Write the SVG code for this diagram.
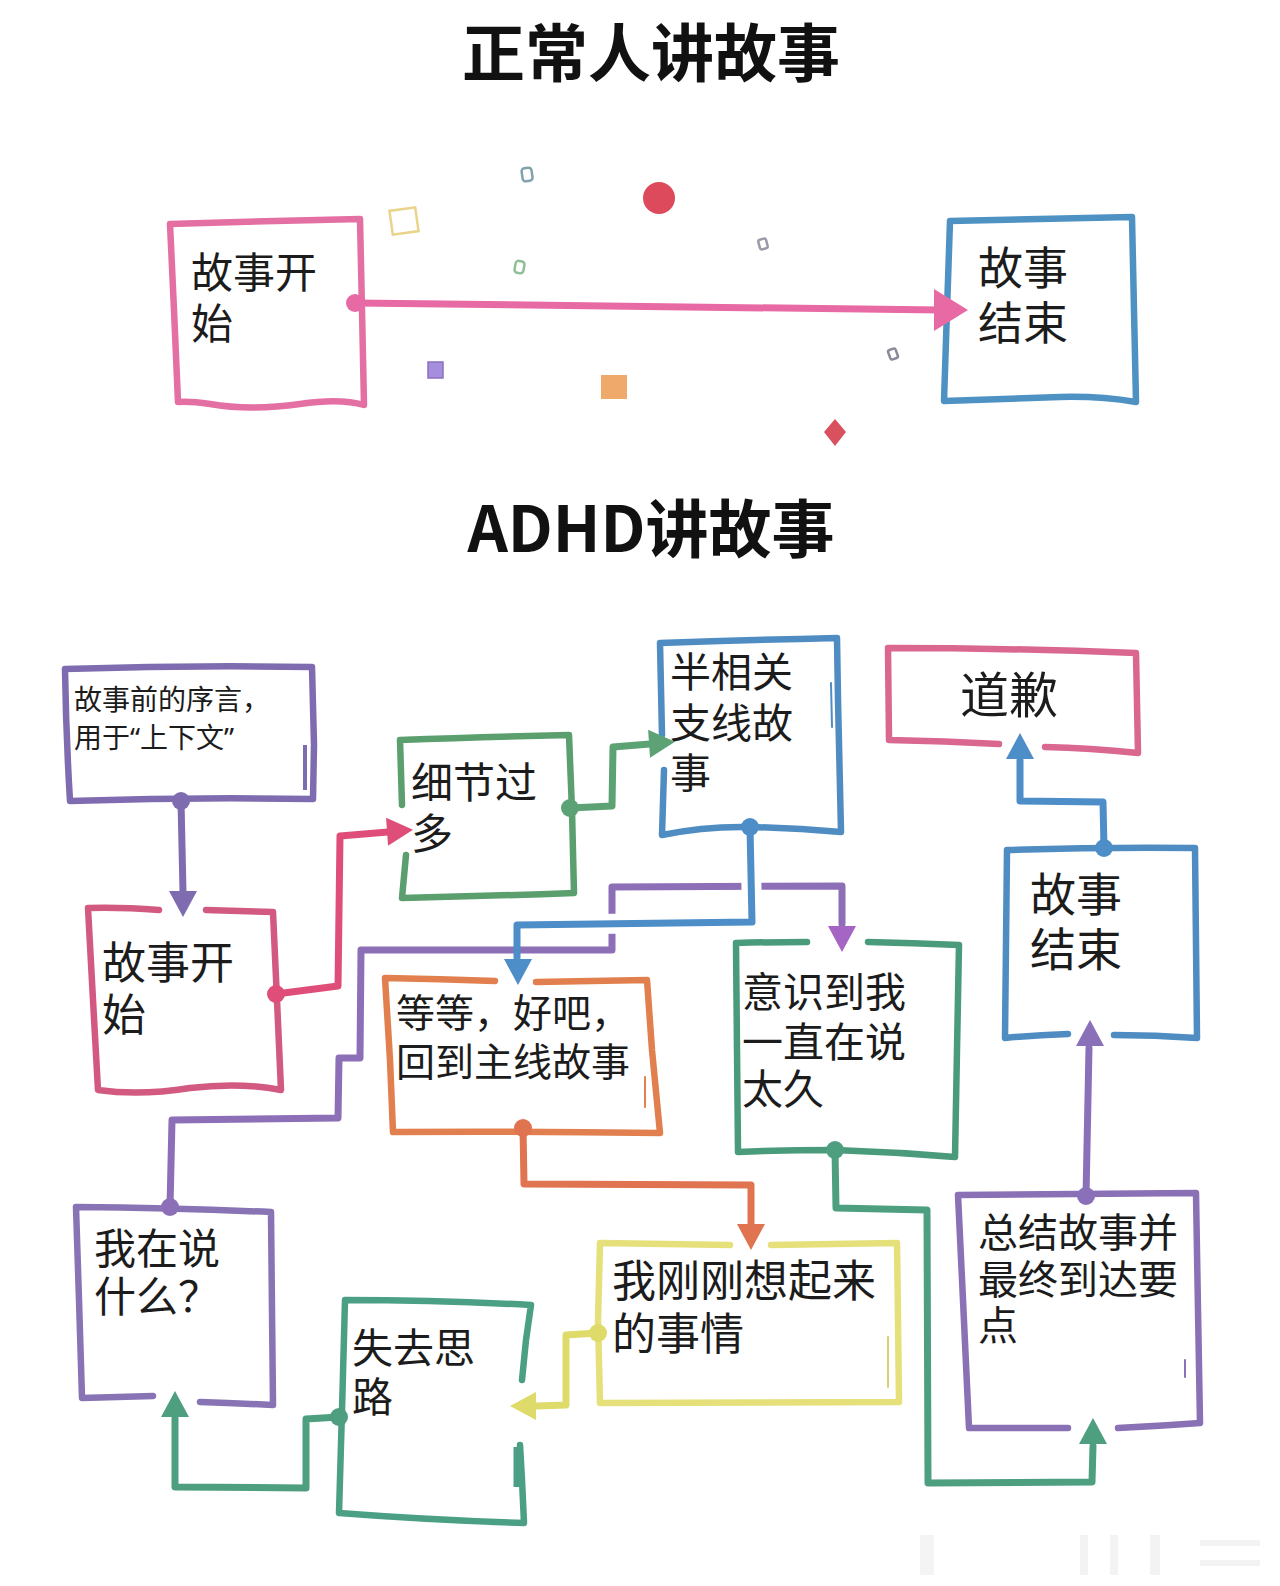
<svg xmlns="http://www.w3.org/2000/svg" width="1280" height="1586" viewBox="0 0 1280 1586">
<defs>
<style>
.t{font-family:"Noto Sans CJK SC","Noto Sans",sans-serif;fill:#1c1c1c;font-weight:400;}
.q{font-family:"Noto Sans","Noto Sans CJK SC",sans-serif;}
.title{font-family:"Noto Sans CJK SC","Noto Sans",sans-serif;font-weight:700;fill:#111;font-size:63px;text-anchor:middle;}
.b{fill:none;stroke-width:6.5;stroke-linecap:round;stroke-linejoin:round;}
.thin{fill:none;stroke-width:2;stroke-linecap:round;}
.c{fill:none;stroke-width:7;stroke-linecap:round;stroke-linejoin:round;}
.halo{fill:none;stroke:#fff;stroke-width:20;stroke-linejoin:round;}
.cf{fill:none;stroke-width:2.5;}
</style>
<path id="ah" d="M2,0 L-24,-14 L-24,14 Z"/>
<path id="ahBig" d="M2,0 L-32,-21 L-32,21 Z"/>
</defs>
<rect width="1280" height="1586" fill="#fff"/>

<text class="title" x="651" y="76">正常人讲故事</text>
<text class="title" x="651" y="552">ADHD讲故事</text>

<g id="confetti">
<rect class="cf" x="522" y="168" width="10" height="13" rx="3" stroke="#7fa3ab" transform="rotate(-8 527 174)"/>
<rect class="cf" x="391" y="209" width="26" height="24" stroke="#e9d48a" stroke-width="3" transform="rotate(-8 404 221)"/>
<ellipse cx="659" cy="198" rx="16" ry="16" fill="#dc4a5c"/>
<rect class="cf" x="759" y="239" width="8" height="10" rx="2" stroke="#9a9aa8" stroke-width="2" transform="rotate(-15 763 244)"/>
<rect class="cf" x="515" y="261" width="9" height="12" rx="3" stroke="#8fbf95" stroke-width="2" transform="rotate(10 519 267)"/>
<rect x="428" y="362" width="15" height="16" fill="#a58fdc" stroke="#8a70c0" stroke-width="1.5"/>
<rect x="601" y="375" width="26" height="24" fill="#efa96a"/>
<rect class="cf" x="889" y="349" width="8" height="10" rx="2" stroke="#8a8a9a" stroke-width="2" transform="rotate(-20 893 354)"/>
<polygon points="835,419 846,432 835,446 824,432" fill="#d9505e"/>
</g>

<g id="top-start">
<path class="b" stroke="#e46fa3" d="M170,224 Q265,221 360,219 L362,310 L364,405 Q340,398 300,404 Q250,411 210,404 Q190,401 178,402 L174,310 Z"/>
<text class="t" font-size="42" x="191" y="288">故事开<tspan x="191" dy="51">始</tspan></text>
</g>
<g id="top-end">
<path class="b" stroke="#4e92c4" d="M950,221 Q1040,219 1132,217 L1134,310 L1136,402 Q1100,396 1060,397 Q1000,399 944,401 L947,310 Z"/>
<text class="t" font-size="45" x="978" y="285">故事<tspan x="978" dy="55">结束</tspan></text>
</g>

<g id="nA">
<path class="b" stroke="#7f6cb0" d="M65,669 Q190,665 312,667 L314,745 L313,799 Q190,797 70,801 Q66,735 65,669 Z"/>
<line x1="305" y1="745" x2="305" y2="790" stroke="#7f6cb0" stroke-width="4"/>
<text class="t" font-size="28" x="74" y="710">故事前的序言，<tspan x="74" dy="38">用于<tspan class="q">“</tspan>上下文<tspan class="q">”</tspan></tspan></text>
</g>
<g id="nB">
<path class="b" stroke="#d25a80" d="M159,910 Q120,907 88,908 L93,1000 L98,1090 Q140,1096 190,1088 Q240,1082 281,1090 L277,1000 L273,912 L206,910"/>
<text class="t" font-size="44" x="102" y="979">故事开<tspan x="102" dy="52">始</tspan></text>
</g>
<g id="nC">
<path class="b" stroke="#5b9f6e" d="M402,805 L400,740 Q480,737 569,735 L572,810 L574,893 Q490,896 402,898 L406,855"/>
<text class="t" font-size="42" x="411" y="798">细节过<tspan x="411" dy="51">多</tspan></text>
</g>
<g id="nD">
<path class="b" stroke="#4f8cc2" d="M664,770 L662,835 Q705,826 750,827 Q795,828 841,832 L838,700 L837,638 Q748,640 660,643 L662,735"/>
<line class="thin" stroke="#4f8cc2" x1="831" y1="683" x2="832" y2="727"/>
<text class="t" font-size="41" x="670" y="687">半相关<tspan x="670" dy="51">支线故</tspan><tspan x="670" dy="50">事</tspan></text>
</g>
<g id="nE">
<path class="b" stroke="#d9678f" d="M999,744 Q945,741 889,740 L888,648 Q1010,648 1136,653 L1138,753 Q1090,748 1045,747"/>
<text class="t" font-size="49" x="960" y="713">道歉</text>
</g>
<g id="nF">
<path class="b" stroke="#4f8cc2" d="M1068,1034 Q1035,1035 1005,1038 L1007,850 Q1100,847 1195,848 L1197,1038 Q1155,1035 1114,1035"/>
<text class="t" font-size="46" x="1030" y="911">故事<tspan x="1030" dy="55">结束</tspan></text>
</g>
<g id="nG">
<path class="b" stroke="#e1804e" d="M495,981 Q440,979 385,978 L390,1060 L393,1132 Q525,1131 660,1133 L652,1050 L647,980 Q592,981 536,982"/>
<line class="thin" stroke="#e1804e" x1="645" y1="1077" x2="645" y2="1107"/>
<text class="t" font-size="39" x="396" y="1027">等等，好吧，<tspan x="396" dy="49">回到主线故事</tspan></text>
</g>
<g id="nH">
<path class="b" stroke="#4a9a7c" d="M807,942 Q770,942 736,943 L737,1050 L738,1152 Q785,1150 835,1150 Q895,1152 955,1157 L957,1050 L959,945 Q913,943 868,942"/>
<text class="t" font-size="41" x="742" y="1007">意识到我<tspan x="742" dy="50">一直在说</tspan><tspan x="742" dy="47">太久</tspan></text>
</g>
<g id="nI">
<path class="b" stroke="#8873b5" d="M153,1396 Q115,1397 82,1398 L79,1300 L76,1207 Q175,1208 271,1212 L272,1310 L273,1405 Q235,1403 200,1402"/>
<text class="t" font-size="42" x="94" y="1264">我在说<tspan x="94" dy="48">什么？</tspan></text>
</g>
<g id="nJ">
<path class="b" stroke="#4b9f84" d="M522,1380 L526,1340 L531,1305 Q440,1300 345,1300 L342,1410 L339,1513 Q430,1520 524,1523 L522,1480 L520,1445"/>
<line x1="518" y1="1447" x2="518" y2="1487" stroke="#4b9f84" stroke-width="9"/>
<text class="t" font-size="41" x="352" y="1363">失去思<tspan x="352" dy="49">路</tspan></text>
</g>
<g id="nK">
<path class="b" stroke="#e6e07a" d="M730,1245 Q665,1244 600,1243 L598,1320 L600,1403 Q750,1402 899,1402 L898,1320 L897,1243 Q834,1244 771,1245"/>
<line class="thin" stroke="#d8d070" x1="888" y1="1337" x2="888" y2="1387"/>
<text class="t" font-size="44" x="612" y="1297">我刚刚想起来<tspan x="612" dy="53">的事情</tspan></text>
</g>
<g id="nL">
<path class="b" stroke="#8a70b5" d="M1068,1428 Q1018,1428 969,1428 L963,1300 L958,1195 Q1077,1194 1196,1193 L1198,1310 L1200,1423 Q1160,1426 1118,1428"/>
<line class="thin" stroke="#8a70b5" x1="1185" y1="1360" x2="1185" y2="1377"/>
<text class="t" font-size="40" x="978" y="1247">总结故事并<tspan x="978" dy="47">最终到达要</tspan><tspan x="978" dy="46">点</tspan></text>
</g>

<g id="connectors">
<path class="c" stroke="#e86aa5" stroke-width="8" d="M355,303 L940,310"/>
<circle cx="355" cy="303" r="9" fill="#e86aa5"/>
<use href="#ahBig" fill="#e86aa5" transform="translate(966,310)"/>

<path class="c" stroke="#7f6cb0" d="M181,801 L183,892"/>
<circle cx="181" cy="801" r="9" fill="#7f6cb0"/>
<use href="#ah" fill="#7f6cb0" transform="translate(183,915) rotate(90)"/>

<path class="c" stroke="#df4e79" d="M276,994 L338,986 L340,836 L388,832"/>
<circle cx="276" cy="994" r="9" fill="#df4e79"/>
<use href="#ah" fill="#df4e79" transform="translate(411,830) rotate(-4)"/>

<path class="c" stroke="#5da274" d="M570,808 L612,806 L613,747 L650,744"/>
<circle cx="570" cy="808" r="9" fill="#5da274"/>
<use href="#ah" fill="#5da274" transform="translate(673,742) rotate(-4)"/>

<path class="c" stroke="#8d6fb8" d="M170,1207 L172,1120 L338,1118 L339,1058 L360,1058 L361,950 L612,950 L612,887 L842,886 L842,924"/>
<circle cx="170" cy="1207" r="9" fill="#8d6fb8"/>
<use href="#ah" fill="#a565c4" transform="translate(842,950) rotate(90)"/>

<path class="halo" d="M751,860 L752,922 L517,925 L517,945"/>
<path class="c" stroke="#4d8dc8" d="M750,827 L752,922 L517,925 L517,958"/>
<circle cx="750" cy="827" r="9" fill="#4d8dc8"/>
<use href="#ah" fill="#4d8dc8" transform="translate(518,983) rotate(90)"/>

<path class="c" stroke="#e07350" d="M523,1128 L524,1184 L751,1185 L751,1223"/>
<circle cx="523" cy="1128" r="9" fill="#e07350"/>
<use href="#ah" fill="#e07350" transform="translate(751,1248) rotate(90)"/>

<path class="c" stroke="#4e9e80" d="M835,1150 L836,1208 L927,1210 L928,1483 L1092,1482 L1093,1446"/>
<circle cx="835" cy="1150" r="9" fill="#4e9e80"/>
<use href="#ah" fill="#4e9e80" transform="translate(1093,1420) rotate(-90)"/>

<path class="c" stroke="#8a70b8" d="M1086,1196 L1089,1048"/>
<circle cx="1086" cy="1196" r="9" fill="#8a70b8"/>
<use href="#ah" fill="#8a70b8" transform="translate(1090,1022) rotate(-90)"/>

<path class="c" stroke="#4d8dc8" d="M1104,848 L1103,802 L1020,801 L1020,760"/>
<circle cx="1104" cy="848" r="9" fill="#4d8dc8"/>
<use href="#ah" fill="#4d8dc8" transform="translate(1020,735) rotate(-90)"/>

<path class="c" stroke="#dedb6a" d="M598,1333 L566,1335 L566,1405 L537,1406"/>
<circle cx="598" cy="1333" r="9" fill="#dedb6a"/>
<use href="#ah" fill="#dedb6a" transform="translate(512,1406) rotate(180)"/>

<path class="c" stroke="#4e9e80" d="M339,1417 L306,1419 L306,1488 L175,1487 L175,1418"/>
<circle cx="339" cy="1417" r="9" fill="#4e9e80"/>
<use href="#ah" fill="#4e9e80" transform="translate(175,1393) rotate(-90)"/>
</g>

<g id="watermark" fill="#ececec" opacity="0.6">
<rect x="920" y="1535" width="14" height="40"/>
<rect x="1080" y="1535" width="8" height="40"/>
<rect x="1110" y="1535" width="8" height="40"/>
<rect x="1150" y="1535" width="10" height="40"/>
<rect x="1200" y="1540" width="60" height="6"/>
<rect x="1200" y="1560" width="60" height="6"/>
</g>
</svg>
